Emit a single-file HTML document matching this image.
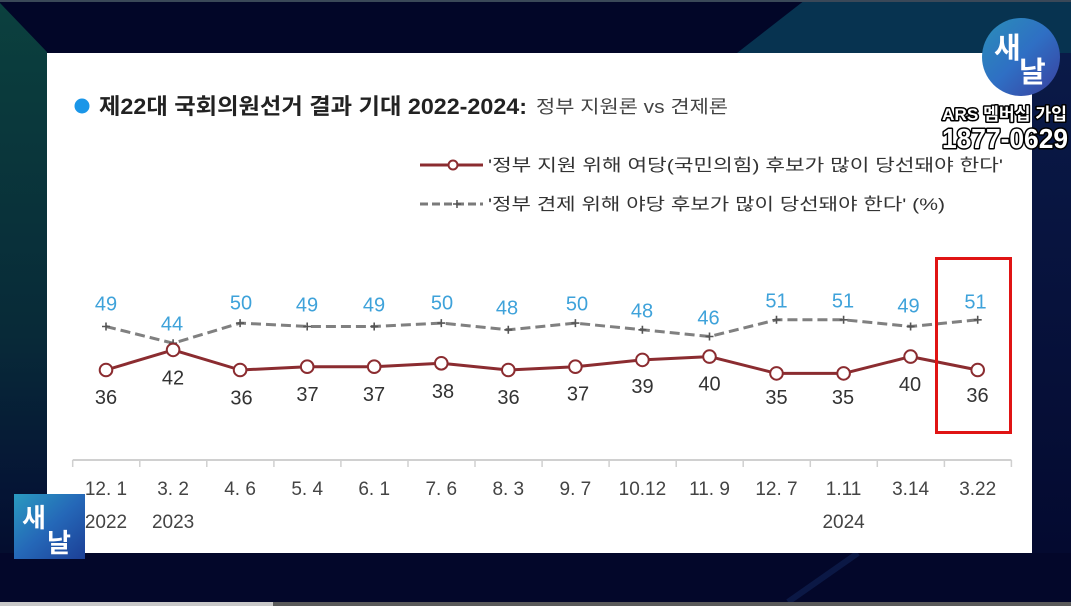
<!DOCTYPE html>
<html><head><meta charset="utf-8"><style>
html,body{margin:0;padding:0;background:#030728;}
svg{display:block;}
text{font-family:"Liberation Sans","Noto Sans CJK KR",sans-serif;}
</style></head><body>
<svg width="1071" height="606" viewBox="0 0 1071 606" xmlns="http://www.w3.org/2000/svg">
<defs>
<linearGradient id="lg" x1="0" y1="0" x2="0" y2="1">
<stop offset="0" stop-color="#0b403e"/>
<stop offset="0.55" stop-color="#082a38"/>
<stop offset="0.8" stop-color="#051535"/>
<stop offset="1" stop-color="#03082a"/>
</linearGradient>
<linearGradient id="rg" x1="0" y1="0" x2="0" y2="1">
<stop offset="0" stop-color="#0a1a48"/>
<stop offset="1" stop-color="#040a30"/>
</linearGradient>
<linearGradient id="cg" x1="0" y1="0" x2="1" y2="1">
<stop offset="0" stop-color="#2a8fb8"/>
<stop offset="0.5" stop-color="#2f6fc4"/>
<stop offset="1" stop-color="#3a3f9e"/>
</linearGradient>
<linearGradient id="sg" x1="0" y1="0" x2="1" y2="1">
<stop offset="0" stop-color="#2a9bc0"/>
<stop offset="0.5" stop-color="#2568b8"/>
<stop offset="1" stop-color="#1c3f96"/>
</linearGradient>
</defs>
<!-- background -->
<rect x="0" y="0" width="1071" height="606" fill="#030728"/>
<polygon points="0,0 1071,0 1071,53 0,53" fill="#020628"/>
<polygon points="805,0 1071,0 1071,53 737,53" fill="#073350"/>
<rect x="0" y="0" width="1071" height="2" fill="#3a4858"/>
<polygon points="0,3 47,52 47,606 0,606" fill="url(#lg)"/>
<rect x="1031" y="53" width="40" height="500" fill="url(#rg)"/>
<rect x="0" y="553" width="1071" height="49" fill="#03072a"/>
<line x1="858" y1="553" x2="788" y2="602" stroke="#0b1845" stroke-width="6"/>
<rect x="0" y="602" width="273" height="4" fill="#c8c8c8"/>
<rect x="273" y="602" width="798" height="4" fill="#5a5a5a"/>
<!-- panel -->
<rect x="47" y="53" width="985" height="500" fill="#ffffff"/>
<!-- title -->
<circle cx="82" cy="106" r="7.5" fill="#1a96e8"/>
<text x="99" y="114" font-size="22" font-weight="bold" fill="#222" textLength="428" lengthAdjust="spacingAndGlyphs">제22대 국회의원선거 결과 기대 2022-2024:</text>
<text x="536" y="113" font-size="18" fill="#444" textLength="192" lengthAdjust="spacingAndGlyphs">정부 지원론 vs 견제론</text>
<!-- legend -->
<line x1="420" y1="165" x2="483" y2="165" stroke="#8b2c30" stroke-width="3"/>
<circle cx="453" cy="165" r="4.5" fill="#fff" stroke="#8b2c30" stroke-width="2"/>
<text x="488" y="171" font-size="17" fill="#333" textLength="515" lengthAdjust="spacingAndGlyphs">'정부 지원 위해 여당(국민의힘) 후보가 많이 당선돼야 한다'</text>
<line x1="420" y1="204" x2="483" y2="204" stroke="#7a7a7a" stroke-width="3" stroke-dasharray="8 4"/>
<path d="M453 204h8M457 200v8" stroke="#555" stroke-width="1.5"/>
<text x="488" y="210" font-size="17" fill="#333" textLength="457" lengthAdjust="spacingAndGlyphs">'정부 견제 위해 야당 후보가 많이 당선돼야 한다' (%)</text>
<!-- gray dashed series -->
<polyline fill="none" stroke="#808080" stroke-width="3" stroke-dasharray="10 5"
points="106,326.5 173.1,343.2 240.1,323.1 307.2,326.5 374.2,326.5 441.3,323.1 508.3,329.8 575.4,323.1 642.4,329.8 709.5,336.5 776.5,319.8 843.6,319.8 910.6,326.5 977.7,319.8"/>
<g stroke="#555" stroke-width="1.6">
<path d="M102 326.5h8M106 322.5v8"/>
<path d="M169.1 343.2h8M173.1 339.2v8"/>
<path d="M236.1 323.1h8M240.1 319.1v8"/>
<path d="M303.2 326.5h8M307.2 322.5v8"/>
<path d="M370.2 326.5h8M374.2 322.5v8"/>
<path d="M437.3 323.1h8M441.3 319.1v8"/>
<path d="M504.3 329.8h8M508.3 325.8v8"/>
<path d="M571.4 323.1h8M575.4 319.1v8"/>
<path d="M638.4 329.8h8M642.4 325.8v8"/>
<path d="M705.5 336.5h8M709.5 332.5v8"/>
<path d="M772.5 319.8h8M776.5 315.8v8"/>
<path d="M839.6 319.8h8M843.6 315.8v8"/>
<path d="M906.6 326.5h8M910.6 322.5v8"/>
<path d="M973.7 319.8h8M977.7 315.8v8"/>
</g>
<!-- red series -->
<polyline fill="none" stroke="#8b2c30" stroke-width="3" stroke-linejoin="round"
points="106,370 173.1,349.9 240.1,370 307.2,366.7 374.2,366.7 441.3,363.3 508.3,370 575.4,366.7 642.4,359.9 709.5,356.6 776.5,373.4 843.6,373.4 910.6,356.6 977.7,370"/>
<g fill="#fff" stroke="#8b2c30" stroke-width="2">
<circle cx="106" cy="370" r="6.3"/>
<circle cx="173.1" cy="349.9" r="6.3"/>
<circle cx="240.1" cy="370" r="6.3"/>
<circle cx="307.2" cy="366.7" r="6.3"/>
<circle cx="374.2" cy="366.7" r="6.3"/>
<circle cx="441.3" cy="363.3" r="6.3"/>
<circle cx="508.3" cy="370" r="6.3"/>
<circle cx="575.4" cy="366.7" r="6.3"/>
<circle cx="642.4" cy="359.9" r="6.3"/>
<circle cx="709.5" cy="356.6" r="6.3"/>
<circle cx="776.5" cy="373.4" r="6.3"/>
<circle cx="843.6" cy="373.4" r="6.3"/>
<circle cx="910.6" cy="356.6" r="6.3"/>
<circle cx="977.7" cy="370" r="6.3"/>
</g>
<!-- blue labels -->
<g font-size="20" fill="#3ea2da" text-anchor="middle">
<text x="106" y="310.5">49</text>
<text x="172" y="330.5">44</text>
<text x="241" y="309.5">50</text>
<text x="307" y="311.5">49</text>
<text x="374" y="311.5">49</text>
<text x="442" y="309.5">50</text>
<text x="507" y="314.5">48</text>
<text x="577" y="310.5">50</text>
<text x="642" y="317.5">48</text>
<text x="708.5" y="324.5">46</text>
<text x="776.5" y="307.5">51</text>
<text x="843" y="307.5">51</text>
<text x="908.5" y="312.5">49</text>
<text x="975.5" y="308.5">51</text>
</g>
<!-- dark labels -->
<g font-size="20" fill="#333" text-anchor="middle">
<text x="106" y="404">36</text>
<text x="173" y="384.5">42</text>
<text x="241.5" y="404.5">36</text>
<text x="307.5" y="401">37</text>
<text x="374" y="401">37</text>
<text x="443" y="398">38</text>
<text x="508.5" y="404">36</text>
<text x="578" y="400.5">37</text>
<text x="642.5" y="393">39</text>
<text x="709.5" y="390.5">40</text>
<text x="776.5" y="404">35</text>
<text x="843" y="404">35</text>
<text x="910" y="391">40</text>
<text x="977.5" y="402">36</text>
</g>
<!-- highlight box -->
<rect x="936.5" y="258.5" width="74" height="174" fill="none" stroke="#e01414" stroke-width="3"/>
<!-- axis -->
<line x1="72.7" y1="460" x2="1011.4" y2="460" stroke="#d0d0d0" stroke-width="2"/>
<g stroke="#d0d0d0" stroke-width="1.5">
<path d="M72.7 460v7M139.8 460v7M206.8 460v7M273.9 460v7M340.9 460v7M408 460v7M475 460v7M542.1 460v7M609.1 460v7M676.2 460v7M743.2 460v7M810.3 460v7M877.3 460v7M944.4 460v7M1011.4 460v7"/>
</g>
<g font-size="19" fill="#444" text-anchor="middle">
<text x="106" y="495">12. 1</text>
<text x="173.1" y="495">3. 2</text>
<text x="240.1" y="495">4. 6</text>
<text x="307.2" y="495">5. 4</text>
<text x="374.2" y="495">6. 1</text>
<text x="441.3" y="495">7. 6</text>
<text x="508.3" y="495">8. 3</text>
<text x="575.4" y="495">9. 7</text>
<text x="642.4" y="495">10.12</text>
<text x="709.5" y="495">11. 9</text>
<text x="776.5" y="495">12. 7</text>
<text x="843.6" y="495">1.11</text>
<text x="910.6" y="495">3.14</text>
<text x="977.7" y="495">3.22</text>
<text x="106" y="528">2022</text>
<text x="173.1" y="528">2023</text>
<text x="843.6" y="528">2024</text>
</g>
<!-- bottom-left logo -->
<rect x="14" y="494" width="71" height="65" fill="url(#sg)"/>
<text x="22" y="527" font-size="26" font-weight="bold" fill="#fff">새</text>
<text x="47" y="552" font-size="26" font-weight="bold" fill="#fff">날</text>
<!-- top-right logo -->
<circle cx="1021" cy="57" r="39" fill="url(#cg)"/>
<text x="994" y="58" font-size="29" font-weight="bold" fill="#fff">새</text>
<text x="1019" y="82" font-size="29" font-weight="bold" fill="#fff">날</text>
<g font-weight="bold" fill="#fff" stroke="#000" stroke-width="3" paint-order="stroke" stroke-linejoin="round">
<text x="942" y="120" font-size="17" textLength="125" lengthAdjust="spacingAndGlyphs">ARS 멤버십 가입</text>
<text x="942" y="148" font-size="28" textLength="126" lengthAdjust="spacingAndGlyphs">1877-0629</text>
</g>
</svg>
</body></html>
